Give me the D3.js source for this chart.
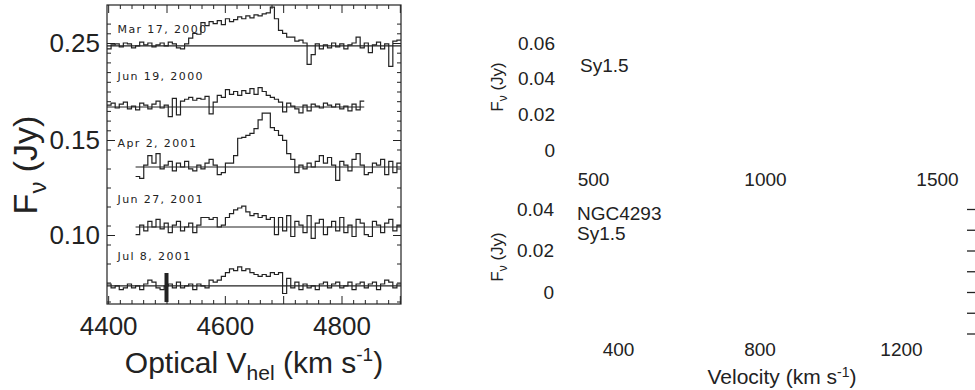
<!DOCTYPE html>
<html>
<head>
<meta charset="utf-8">
<script src="https://cdn.jsdelivr.net/npm/d3@7/dist/d3.min.js"></script>
<style>
  body { margin: 0; background: #fff; }
  svg { display: block; }
  .lbl { font-family: "Liberation Sans", Arial, sans-serif; fill: #222; }
  .epoch { font-family: "DejaVu Sans", sans-serif; font-size: 11px; letter-spacing: 1.4px; fill: #222; }
</style>
</head>
<body>
<svg id="chart" width="975" height="390"></svg>
<script>
// epochs of the line monitoring, stacked with offsets
const epochs = ["Mar 17, 2000", "Jun 19, 2000", "Apr 2, 2001", "Jun 27, 2001", "Jul 8, 2001"];
const continuum = [0.247, 0.184, 0.1358, 0.1042, 0.0732];   // Jy
const startVel = [4398, 4398, 4447, 4447, 4398];             // km/s, first channel
const chanWidth = 7;                                          // km/s

// flux above continuum per channel, mJy
const mar17 = [-3, 1, 2, -1, 3, 2, -2, 0, 4, 1, 3, -1, 1, 3, 0, 4, 2, -2, -3, 2,
  8, 13, 12,
  24, 21, 25, 23, 26, 22, 28, 25, 27, 30, 28, 31, 29, 32, 31, 33, 34,
  40,
  28, 16, 13, 9, 9, 5, 6, 3,
  -19, -9, 2, -3, 1, -2, 3, -1, 2, -3, 1, 3, 9, -2, 3, -7, 1, 4, -3, 2, -21, 5, 6];
const jun19 = [2, 4, -1, 3, 5, -2, 1, -3, 4, 2, -2, 3, 6, -1, 2,
  -10, 9, -8,
  6, 8, 10, 7, 9, 8, 11,
  -7,
  5, 12, 10,
  18, 13, 16, 12, 17, 14, 19, 13, 20, 16, 12,
  10, 8, 5,
  -5, 4, 1, -2, -6, 2, -4, 3, 1, -1, 4, 2, 0, 3, -2, 1, -4, 3, -3, 6];
const apr02 = [-5, -6, 1,
  6, 2, 7, -1,
  1, 3, -2, 2, 0, 3, -1, -2, 1, -1, 2, 4, 1, -4, -3, 2,
  2, 6, 16, 17, 19, 21, 26, 35, 42, 42, 27, 24, 19, 14, 7, 4,
  -3, 1, -1, 2, 0, 3, 6, 2, 5, 1, -7, 3, 1, -2, 4, 7, 1, -4, -3, 2, 1, 4, -4, 3, -3, 2];
const jun27 = [-4, 1, -2, 3, 0, 4, -1, 2, -3, 1, 3, -2, 0, 2, -3, 1,
  5, 5, 4, 5,
  0, 1,
  5, 7,
  9, 10, 11, 8,
  6, 7, 5, 6, 4, 5,
  -4, 5, -2, 6, -5, 3, 1, -3, 6, -6, 2, 4, -4, 0, 3, -2, 5, -3, 1, -5, 4, 2, -4, -5, 3, 1, -3, 2, 4, -2, 1];
const jul08 = [1, -1, 0, -2, -1, 1, -1, 0, -2, 1, 3, 2, -1, -2, 0, 1, -1, 2, -1, 0, 1, -2, 1, 0, -1, 3, 2, 3,
  5, 7,
  9, 8, 10, 8, 9, 7,
  6, 5, 6, 5, 7, 6, 7,
  -4,
  4, -1, 2, -2, 1, -1, 0, -2, 1, 2, -1, 1, 2, -1, 0, 2, -2, 1, 2, -1, 1, 2, -2, 1, 3, 2, -1, 1];
const spectra = [mar17, jun19, apr02, jun27, jul08];

// thick marker on the last spectrum
const markerVel = 4500;
const markerFlux = [0.0647, 0.080];

// main axis ticks
const xMajor = [4400, 4500, 4600, 4700, 4800, 4900];
const xLabels = [4400, 4600, 4800];
const yLabels = [0.10, 0.15, 0.25];

// ghost panels on the right (labels only)
const topGhostY = [0, 0.02, 0.04, 0.06];
const topGhostX = [500, 1000, 1500];
const botGhostY = [0, 0.02, 0.04];
const botGhostX = [400, 800, 1200];
const botGhostTicks = [-0.02, -0.01, 0, 0.01, 0.02, 0.03, 0.04];
const ghostNotes = ["NGC4293", "Sy1.5"];

const svg = d3.select("#chart");
const ink = "#222";

const L = 107, R = 401, T = 5, B = 304;
const x = d3.scaleLinear().domain([4398, 4902]).range([L, R]);
// the printed labels are not evenly spaced, so a piecewise scale is used
const y = d3.scaleLinear().domain([0.10, 0.15, 0.25]).range([235, 140, 43]);

svg.append("clipPath").attr("id", "frame")
  .append("rect").attr("x", L).attr("y", T).attr("width", R - L).attr("height", B - T);

const line = d3.line().x(d => x(d.v)).y(d => y(d.f)).curve(d3.curveStepAfter);

spectra.forEach((vals, i) => {
  const pts = vals.map((m, k) => ({v: startVel[i] + k * chanWidth, f: continuum[i] + m / 1000}));
  pts.push({v: startVel[i] + vals.length * chanWidth, f: pts[pts.length - 1].f});
  const g = svg.append("g").attr("clip-path", "url(#frame)");
  g.append("line")
    .attr("x1", x(pts[0].v)).attr("x2", x(pts[pts.length - 1].v))
    .attr("y1", y(continuum[i])).attr("y2", y(continuum[i]))
    .attr("stroke", ink).attr("stroke-width", 1.1);
  g.append("path").datum(pts)
    .attr("d", line).attr("fill", "none")
    .attr("stroke", ink).attr("stroke-width", 1.2);
});

svg.append("rect")
  .attr("x", x(markerVel) - 2).attr("width", 4)
  .attr("y", y(markerFlux[1])).attr("height", y(markerFlux[0]) - y(markerFlux[1]))
  .attr("fill", ink);

// epoch labels
const labelY = [33, 80, 147, 203, 260];
epochs.forEach((e, i) => {
  svg.append("text").attr("class", "epoch")
    .attr("x", x(4416)).attr("y", labelY[i]).text(e);
});

// frame and ticks
const minorX = d3.range(4400, 4902, 20).filter(v => v % 100 !== 0);
const minorY = d3.range(0.065, 0.15, 0.01).concat(d3.range(0.16, 0.27, 0.01));

function frameAxis(make, tr, major, minor, labels, fmt) {
  const gMin = svg.append("g").attr("transform", tr)
    .call(make().tickValues(minor).tickSize(-4).tickFormat(""));
  gMin.select(".domain").remove();
  const gMaj = svg.append("g").attr("transform", tr)
    .call(make().tickValues(major).tickSize(-8).tickPadding(labels ? 13 : 0)
      .tickFormat(d => labels && labels.includes(d) ? fmt(d) : ""));
  gMaj.select(".domain").remove();
  [gMin, gMaj].forEach(g => g.selectAll("line").attr("stroke", ink));
  gMaj.selectAll("text").attr("class", "lbl").style("font-size", "26px");
  return gMaj;
}
frameAxis(() => d3.axisBottom(x), `translate(0,${B})`, xMajor, minorX, xLabels, d3.format("d"));
frameAxis(() => d3.axisTop(x), `translate(0,${T})`, xMajor, minorX, null, null);
const gl = frameAxis(() => d3.axisLeft(y), `translate(${L},0)`, yLabels, minorY, yLabels, d3.format(".2f"));
gl.selectAll("text").attr("x", -7);
frameAxis(() => d3.axisRight(y), `translate(${R},0)`, yLabels, minorY, null, null);

svg.append("rect").attr("x", L).attr("y", T).attr("width", R - L).attr("height", B - T)
  .attr("fill", "none").attr("stroke", ink).attr("stroke-width", 1.2);

// axis titles
const xt = svg.append("text").attr("class", "lbl").style("font-size", "30px")
  .attr("x", 254).attr("y", 373).attr("text-anchor", "middle");
xt.append("tspan").text("Optical V");
xt.append("tspan").attr("dy", 7).style("font-size", "21px").text("hel");
xt.append("tspan").attr("dy", -7).text(" (km s");
xt.append("tspan").attr("dy", -12).style("font-size", "19px").text("-1");
xt.append("tspan").attr("dy", 12).text(")");

function yTitle(cx, cy, size) {
  const t = svg.append("text").attr("class", "lbl").style("font-size", size + "px")
    .attr("transform", `translate(${cx},${cy}) rotate(-90)`).attr("text-anchor", "middle");
  t.append("tspan").text("F");
  t.append("tspan").attr("dy", size * 0.25).style("font-size", (size * 0.7) + "px").text("ν");
  t.append("tspan").attr("dy", -size * 0.25).text(" (Jy)");
}
yTitle(37, 165, 34);

// ghost panels
function ghostAxis(gen, tr, vals, fmt, size) {
  const g = svg.append("g").attr("transform", tr)
    .call(gen.tickValues(vals).tickSize(0).tickPadding(0).tickFormat(fmt));
  g.select(".domain").remove();
  g.selectAll("text").attr("class", "lbl").style("font-size", size + "px");
  return g;
}
const gy1 = d3.scaleLinear().domain([0, 0.06]).range([150, 43]);
const gx1 = d3.scaleLinear().domain([500, 1500]).range([593, 937]);
const gy2 = d3.scaleLinear().domain([0, 0.04]).range([292, 209]);
const gx2 = d3.scaleLinear().domain([400, 1200]).range([618, 901]);
const gfmt = d => d === 0 ? "0" : d3.format(".2f")(d);
ghostAxis(d3.axisLeft(gy1), "translate(555,0)", topGhostY, gfmt, 19);
ghostAxis(d3.axisBottom(gx1), "translate(0,172)", topGhostX, d3.format("d"), 19);
ghostAxis(d3.axisLeft(gy2), "translate(554,0)", botGhostY, gfmt, 19);
ghostAxis(d3.axisBottom(gx2), "translate(0,342)", botGhostX, d3.format("d"), 19);

const gr = svg.append("g").attr("transform", "translate(967,0)")
  .call(d3.axisRight(gy2).tickValues(botGhostTicks).tickSize(8).tickFormat(""));
gr.select(".domain").remove();
gr.selectAll("line").attr("stroke", ink).attr("stroke-width", 1.3);

yTitle(503, 87, 17);
yTitle(503, 257, 17);

svg.append("text").attr("class", "lbl").style("font-size", "19px")
  .attr("x", 580).attr("y", 72).text("Sy1.5");
ghostNotes.forEach((n, i) => {
  svg.append("text").attr("class", "lbl").style("font-size", "19px")
    .attr("x", 577).attr("y", 220 + i * 20).text(n);
});

const vt = svg.append("text").attr("class", "lbl").style("font-size", "21px")
  .attr("x", 782).attr("y", 384).attr("text-anchor", "middle");
vt.append("tspan").text("Velocity (km s");
vt.append("tspan").attr("dy", -7).style("font-size", "14px").text("-1");
vt.append("tspan").attr("dy", 7).text(")");
</script>
</body>
</html>
